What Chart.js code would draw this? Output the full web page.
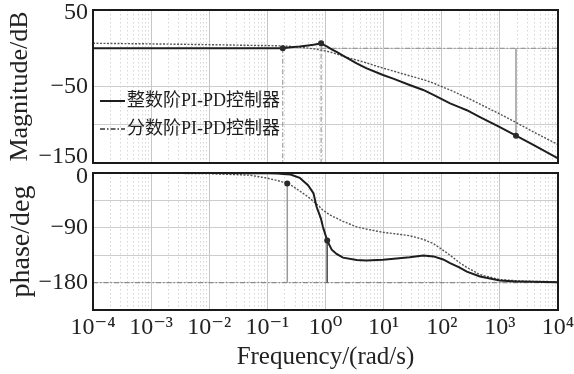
<!DOCTYPE html>
<html><head><meta charset="utf-8">
<script src="https://cdn.jsdelivr.net/npm/chart.js@4.4.1/dist/chart.umd.min.js"></script>
<style>
html,body{margin:0;padding:0;background:#fff;}
#wrap{position:relative;width:574px;height:374px;background:#fff;overflow:hidden;}
#wrap canvas{position:absolute;left:0;}
</style>
</head><body>
<div id="wrap">
<canvas id="mag" width="574" height="172" style="top:0px"></canvas>
<canvas id="ph" width="574" height="209" style="top:165px"></canvas>
</div>
<script>
// ---------------- data ----------------
const frequency = [1e-4, 1e-3, 1e-2, 0.05, 0.1, 0.15, 0.184, 0.25, 0.36, 0.5, 0.62, 0.7, 0.8, 0.84, 0.9, 1.07, 1.28, 1.55, 2, 3.44, 5, 9.75, 15, 28, 48, 72, 106, 139, 200, 270, 455, 1000, 1893, 3700, 10000];
const magInteger = [0, 0, 0, 0, 0.05, 0.1, 0.1, 1.2, 2.3, 3.6, 4.6, 5.3, 6.1, 6.5, 5.2, 2.0, -1.4, -4.9, -9.7, -19.7, -26, -35, -40, -48, -54.5, -61, -67.6, -72, -77, -81, -90, -103, -114.3, -126, -144];
const magFractional = [6.5, 5.7, 4.7, 3.8, 3.5, 3.2, 3.0, 2.4, 1.4, 0.2, -0.7, -1.3, -2.0, -2.3, -2.8, -4.0, -5.5, -7.5, -10.5, -15.4, -19, -26, -30, -36, -41, -45.5, -51, -54.5, -60, -64.5, -73, -86, -97, -109, -126];
const phaseInteger = [0, 0, 0, -0.3, -0.6, -1, -1.5, -2.5, -8, -20, -33, -55, -70, -76, -88, -111, -126, -133, -139, -143, -143.7, -142.5, -141, -138.5, -135.5, -137, -142, -148, -155, -162, -170, -176.7, -178, -178.8, -179.5];
const phaseFractional = [-0.1, -0.3, -1, -3.6, -8.5, -12.5, -15, -19.5, -29.5, -39, -46.5, -51, -56, -58, -61, -66, -70.5, -74, -79.4, -88.5, -92, -97.5, -99.5, -103, -109, -116, -127, -135, -147, -155, -167, -175, -177, -178, -178.5];

const magMarkerFreq = [0.184, 0.84, 1893];
const magMarkerVal = [0, 6.5, -114.3];
const phaseMarkerFreq = [0.22, 1.07];
const phaseMarkerVal = [-17.3, -111];

const seriesLabels = ['整数阶PI-PD控制器', '分数阶PI-PD控制器'];
const xTickLabels = ['10⁻⁴', '10⁻³', '10⁻²', '10⁻¹', '10⁰', '10¹', '10²', '10³', '10⁴'];
const magLabelTicks = [50, -50, -150];
const phaseLabelTicks = [0, -90, -180];
const xMin = 1e-4, xMax = 1e4;
const magMin = -150, magMax = 50, magStep = 50;
const phMin = -225, phMax = 0, phStep = 45;
const magTitle = 'Magnitude/dB', phTitle = 'phase/deg', xTitle = 'Frequency/(rad/s)';

// ---------------- helpers ----------------
const SERIF = "'Liberation Serif','Times New Roman','DejaVu Serif',serif";
const LEGFONT = "'Liberation Serif','Noto Sans CJK SC',serif";
const pts = (xs, ys) => xs.map((x, i) => ({x: x, y: ys[i]}));
const isDecade = v => Math.abs(Math.log10(v) - Math.round(Math.log10(v))) < 1e-6;
const xGrid = [];
for (let k = -4; k < 4; k++) for (let m = 1; m <= 9; m++) xGrid.push(m * Math.pow(10, k));
xGrid.push(1e4);
const fmt = v => v < 0 ? '\u2212' + Math.abs(v) : String(v);

const INT_COLOR = '#1e1e1e', FRAC_COLOR = '#555', REF_COLOR = '#8a8a8a';
const DASHDOT = [5, 2, 1.5, 2];

function xScale(showLabels) {
  return {
    type: 'logarithmic', min: xMin, max: xMax,
    afterBuildTicks: s => { s.ticks = xGrid.map(v => ({value: v})); },
    afterFit: s => { s.height = showLabels ? 64 : 9; s.paddingLeft = 0; s.paddingRight = 0; },
    ticks: {
      display: showLabels, autoSkip: false, maxRotation: 0, minRotation: 0, padding: 3,
      color: '#222', font: {family: SERIF, size: 24},
      callback: v => isDecade(v) ? xTickLabels[Math.round(Math.log10(v)) + 4] : ''
    },
    grid: {
      drawTicks: false, lineWidth: 1,
      color: c => (c.tick && isDecade(c.tick.value)) ? '#c6c6c6' : '#d6d6d6'
    },
    border: {display: false, dash: c => (c.tick && !isDecade(c.tick.value)) ? [1.5, 2.5] : []},
    title: showLabels ? {display: true, text: xTitle, color: '#222', font: {family: SERIF, size: 25}, padding: {top: 0, bottom: 2}} : {display: false}
  };
}
// shifts: small vertical nudges (px) of individual tick labels, as in the reference
function yScale(min, max, step, labels, shifts, title, titleSize) {
  const shiftOf = v => shifts[labels.indexOf(v)] || 0;
  return {
    type: 'linear', min: min, max: max,
    afterFit: s => { s.width = 93; s.paddingTop = 0; s.paddingBottom = 0; },
    ticks: {
      stepSize: step, padding: 5, autoSkip: false, color: '#222',
      font: c => {
        const sh = c.tick ? shiftOf(c.tick.value) : 0;
        return sh ? {family: SERIF, size: 24, lineHeight: (Math.abs(sh) * 2) + 'px'} : {family: SERIF, size: 24};
      },
      callback: v => {
        if (!labels.includes(v)) return '';
        const sh = shiftOf(v);
        return sh < 0 ? [fmt(v), ''] : sh > 0 ? ['', fmt(v)] : fmt(v);
      }
    },
    grid: {drawTicks: false, color: '#cdcdcd', lineWidth: 1},
    border: {display: false},
    title: {display: true, text: title, color: '#222', font: {family: SERIF, size: titleSize}, padding: {top: 5, bottom: 0}}
  };
}
const framePlugin = {
  id: 'frame',
  afterDraw(chart) {
    const a = chart.chartArea, ctx = chart.ctx;
    ctx.save();
    ctx.lineWidth = 2; ctx.strokeStyle = '#1a1a1a';
    ctx.strokeRect(a.left, a.top, a.right - a.left, a.bottom - a.top);
    ctx.restore();
  }
};
const legendPlugin = {
  id: 'insideLegend',
  afterDraw(chart) {
    const ctx = chart.ctx, a = chart.chartArea;
    const rows = [
      {label: seriesLabels[0], color: INT_COLOR, width: 2, dash: []},
      {label: seriesLabels[1], color: '#333', width: 1.4, dash: DASHDOT}
    ];
    const ys = [a.top + 91, a.top + 119];
    ctx.save();
    rows.forEach((r, i) => {
      ctx.beginPath();
      ctx.setLineDash(r.dash);
      ctx.lineWidth = r.width; ctx.strokeStyle = r.color;
      ctx.moveTo(a.left + 7, ys[i]); ctx.lineTo(a.left + 32, ys[i]);
      ctx.stroke();
      ctx.setLineDash([]);
      ctx.fillStyle = '#1e1e1e';
      ctx.font = '18px ' + LEGFONT;
      ctx.textBaseline = 'middle'; ctx.textAlign = 'left';
      ctx.fillText(r.label, a.left + 34, ys[i]);
    });
    ctx.restore();
  }
};
const lineDs = (label, data, color, width, dash) => ({
  label: label, data: data, borderColor: color, borderWidth: width, borderDash: dash,
  pointRadius: 0, fill: false, tension: 0, showLine: true
});
const markerDs = (data) => ({
  label: 'markers', data: data, showLine: false, pointRadius: 3,
  pointBackgroundColor: '#2a2a2a', pointBorderColor: '#2a2a2a', pointBorderWidth: 0
});

const common = {
  responsive: false, animation: false, devicePixelRatio: 1,
  plugins: {legend: {display: false}, tooltip: {enabled: false}}
};

// ---------------- magnitude chart ----------------
new Chart(document.getElementById('mag'), {
  type: 'scatter',
  data: {
    datasets: [
      markerDs(pts(magMarkerFreq, magMarkerVal)),
      lineDs(seriesLabels[0], pts(frequency, magInteger), INT_COLOR, 2, []),
      lineDs(seriesLabels[1], pts(frequency, magFractional), FRAC_COLOR, 1.4, [2, 1.5]),
      lineDs('ref1', [{x: magMarkerFreq[0], y: magMarkerVal[0]}, {x: magMarkerFreq[0], y: magMin}], REF_COLOR, 1, DASHDOT),
      lineDs('ref2', [{x: magMarkerFreq[1], y: magMarkerVal[1]}, {x: magMarkerFreq[1], y: magMin}], REF_COLOR, 1, DASHDOT),
      lineDs('ref3', [{x: magMarkerFreq[1], y: 0}, {x: xMax, y: 0}], REF_COLOR, 1, DASHDOT),
      lineDs('ref4', [{x: magMarkerFreq[2], y: 0}, {x: magMarkerFreq[2], y: magMarkerVal[2]}], '#a8a8a8', 1, [])
    ]
  },
  options: Object.assign({}, common, {
    layout: {padding: {top: 10, right: 16, left: 0, bottom: 0}},
    scales: {x: xScale(false), y: yScale(magMin, magMax, magStep, magLabelTicks, [3, 0, -6], magTitle, 26)}
  }),
  plugins: [framePlugin, legendPlugin]
});

// ---------------- phase chart ----------------
new Chart(document.getElementById('ph'), {
  type: 'scatter',
  data: {
    datasets: [
      markerDs(pts(phaseMarkerFreq, phaseMarkerVal)),
      lineDs(seriesLabels[0], pts(frequency, phaseInteger), INT_COLOR, 2, []),
      lineDs(seriesLabels[1], pts(frequency, phaseFractional), FRAC_COLOR, 1.4, [2, 1.5]),
      lineDs('ref1', [{x: phaseMarkerFreq[0], y: phaseMarkerVal[0]}, {x: phaseMarkerFreq[0], y: -180}], '#9a9a9a', 1.5, []),
      lineDs('ref2', [{x: phaseMarkerFreq[1], y: phaseMarkerVal[1]}, {x: phaseMarkerFreq[1], y: -180}], '#555', 1, []),
      lineDs('ref3', [{x: xMin, y: -180}, {x: xMax, y: -180}], REF_COLOR, 1.2, DASHDOT)
    ]
  },
  options: Object.assign({}, common, {
    layout: {padding: {top: 8, right: 16, left: 0, bottom: 0}},
    scales: {x: xScale(true), y: yScale(phMin, phMax, phStep, phaseLabelTicks, [4, 0, 0], phTitle, 28)}
  }),
  plugins: [framePlugin]
});
</script>
</body></html>
